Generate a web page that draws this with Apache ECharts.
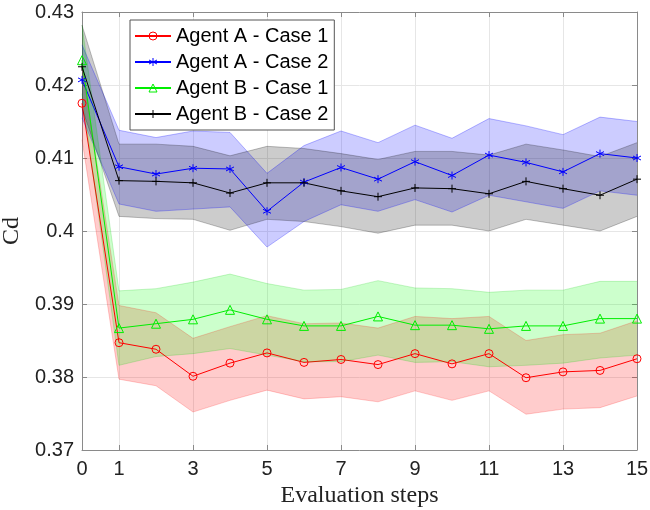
<!DOCTYPE html>
<html>
<head>
<meta charset="utf-8">
<script src="https://cdn.jsdelivr.net/npm/echarts@6/dist/echarts.min.js"></script>
<style>
  html, body { margin: 0; padding: 0; background: #fff; }
  #chart { width: 650px; height: 510px; }
</style>
</head>
<body>
<div id="chart"></div>
<script>
// evaluation steps and tick labels
var steps = ['0','1','2','3','4','5','6','7','8','9','10','11','12','13','14','15'];
var xTickLabels = ['0','1','3','5','7','9','11','13','15'];
var yTicks = [0.37, 0.38, 0.39, 0.4, 0.41, 0.42, 0.43];

// Agent A - Case 1
var a1Mean = [0.4175,0.3847,0.3838,0.3801,0.3819,0.3833,0.3820,0.3824,0.3817,0.3832,0.3818,0.3832,0.3799,0.3807,0.3809,0.3825];
var a1Lo   = [0.4125,0.3797,0.3788,0.3752,0.3768,0.3782,0.3770,0.3773,0.3766,0.3781,0.3768,0.3781,0.3749,0.3756,0.3758,0.3774];
var a1Hi   = [0.4225,0.3898,0.3888,0.3853,0.3869,0.3884,0.3873,0.3874,0.3867,0.3883,0.3880,0.3883,0.3850,0.3858,0.3860,0.3877];

// Agent A - Case 2
var a2Mean = [0.4207,0.4088,0.4078,0.4086,0.4085,0.4027,0.4067,0.4087,0.4071,0.4095,0.4076,0.4104,0.4094,0.4081,0.4106,0.4100];
var a2Lo   = [0.4155,0.4037,0.4027,0.4030,0.4033,0.3978,0.4013,0.4036,0.4027,0.4043,0.4026,0.4049,0.4040,0.4031,0.4055,0.4049];
var a2Hi   = [0.4255,0.4138,0.4128,0.4137,0.4135,0.4079,0.4117,0.4137,0.4121,0.4145,0.4127,0.4154,0.4144,0.4132,0.4156,0.4150];

// Agent B - Case 1
var b1Mean = [0.4234,0.3867,0.3873,0.3879,0.3892,0.3879,0.3870,0.3870,0.3883,0.3871,0.3871,0.3866,0.3870,0.3870,0.3880,0.3880];
var b1Lo   = [0.4188,0.3816,0.3828,0.3832,0.3839,0.3830,0.3821,0.3821,0.3830,0.3820,0.3821,0.3814,0.3816,0.3819,0.3826,0.3830];
var b1Hi   = [0.4282,0.3918,0.3921,0.3930,0.3941,0.3928,0.3919,0.3920,0.3932,0.3922,0.3921,0.3916,0.3919,0.3919,0.3931,0.3931];

// Agent B - Case 2
var b2Mean = [0.4225,0.4069,0.4068,0.4066,0.4052,0.4066,0.4066,0.4055,0.4047,0.4059,0.4058,0.4051,0.4068,0.4058,0.4049,0.4071];
var b2Lo   = [0.4168,0.4020,0.4017,0.4016,0.4001,0.4016,0.4013,0.4006,0.3997,0.4008,0.4008,0.4000,0.4016,0.4008,0.4000,0.4020];
var b2Hi   = [0.4282,0.4119,0.4119,0.4116,0.4103,0.4116,0.4113,0.4106,0.4098,0.4109,0.4109,0.4104,0.4119,0.4111,0.4102,0.4121];

var chart = echarts.init(document.getElementById('chart'));

var showTick = function (i) { return xTickLabels.indexOf(steps[i]) >= 0; };
var axisGray = '#8a8a8a';
var sansFont = '"Liberation Sans", Arial, sans-serif';
var serifFont = '"Liberation Serif", "Times New Roman", serif';

var asterisk = 'path://M5 0L5 10M0.7 2.5L9.3 7.5M0.7 7.5L9.3 2.5';
var plus = 'path://M5 0L5 10M0 5L10 5';
var circle = 'path://M10 5A5 5 0 1 1 0 5A5 5 0 1 1 10 5Z';
var triangle = 'path://M5 0L10 9L0 9Z';

// shaded band built from a lower line and a stacked width
function band(key, lo, hi, fill, edge) {
	return [{
		type: 'line', stack: key, data: lo, symbol: 'none', silent: true,
		lineStyle: { color: edge, width: 0.8 }
	}, {
		type: 'line', stack: key, data: hi.map((v, i) => +(v - lo[i]).toFixed(5)),
		symbol: 'none', silent: true,
		lineStyle: { color: edge, width: 0.8 },
		areaStyle: { color: fill, opacity: 1 }
	}];
}

function meanLine(name, data, color, symbol, size) {
	return {
		name: name, type: 'line', data: data,
		symbol: symbol, symbolSize: size,
		lineStyle: { color: color, width: 1 },
		itemStyle: { color: 'rgba(0,0,0,0)', borderColor: color, borderWidth: 1 }
	};
}

var option = {
	animation: false,
	backgroundColor: '#fff',
	grid: { left: 82, right: 13, top: 12, bottom: 60, containLabel: false, outerBoundsMode: 'none' },
	legend: {
		orient: 'vertical', left: 130, top: 20,
		padding: [6, 6, 6, 4], itemGap: 6, itemWidth: 36, itemHeight: 10,
		borderColor: '#555', borderWidth: 1, backgroundColor: '#fff',
		itemStyle: { borderWidth: 1 },
		textStyle: { fontSize: 20, fontFamily: sansFont, color: '#000', lineHeight: 20 },
		data: ['Agent A - Case 1', 'Agent A - Case 2', 'Agent B - Case 1', 'Agent B - Case 2']
	},
	xAxis: [{
		type: 'category', data: steps, boundaryGap: false,
		name: 'Evaluation steps', nameLocation: 'middle', nameGap: 32,
		nameTextStyle: { fontFamily: serifFont, fontSize: 24, color: '#222' },
		axisLine: { lineStyle: { color: axisGray } },
		axisTick: { inside: true, length: 5, interval: showTick, lineStyle: { color: axisGray } },
		axisLabel: { interval: showTick, fontSize: 20, fontFamily: sansFont, color: '#222', margin: 9 },
		splitLine: { show: true, interval: showTick, lineStyle: { color: '#e6e6e6' } }
	}, {
		type: 'category', data: steps, boundaryGap: false, position: 'top',
		axisLine: { lineStyle: { color: axisGray } },
		axisTick: { inside: true, length: 5, interval: showTick, lineStyle: { color: axisGray } },
		axisLabel: { show: false }, splitLine: { show: false }
	}],
	yAxis: [{
		type: 'value', min: yTicks[0], max: yTicks[yTicks.length - 1], interval: 0.01,
		name: 'Cd', nameLocation: 'middle', nameGap: 57,
		nameTextStyle: { fontFamily: serifFont, fontSize: 24, color: '#222' },
		axisLine: { show: true, lineStyle: { color: axisGray } },
		axisTick: { show: true, inside: true, length: 5, lineStyle: { color: axisGray } },
		axisLabel: { fontSize: 20, fontFamily: sansFont, color: '#222', margin: 8,
			formatter: v => String(+v.toFixed(2)) },
		splitLine: { show: true, lineStyle: { color: '#e6e6e6' } }
	}, {
		type: 'value', min: yTicks[0], max: yTicks[yTicks.length - 1], interval: 0.01, position: 'right',
		axisLine: { show: true, lineStyle: { color: axisGray } },
		axisTick: { show: true, inside: true, length: 5, lineStyle: { color: axisGray } },
		axisLabel: { show: false }, splitLine: { show: false }
	}],
	series: [].concat(
		band('a1', a1Lo, a1Hi, 'rgba(255,0,0,0.2)', 'rgba(255,0,0,0.25)'),
		[meanLine('Agent A - Case 1', a1Mean, '#ff0000', circle, 8)],
		band('a2', a2Lo, a2Hi, 'rgba(0,0,255,0.2)', 'rgba(0,0,255,0.35)'),
		[meanLine('Agent A - Case 2', a2Mean, '#0000ff', asterisk, 8)],
		band('b1', b1Lo, b1Hi, 'rgba(0,255,0,0.2)', 'rgba(0,200,0,0.25)'),
		[meanLine('Agent B - Case 1', b1Mean, '#00ee00', triangle, 9)],
		band('b2', b2Lo, b2Hi, 'rgba(0,0,0,0.2)', 'rgba(0,0,0,0.3)'),
		[meanLine('Agent B - Case 2', b2Mean, '#000000', plus, 8)]
	)
};

chart.setOption(option);
</script>
</body>
</html>
